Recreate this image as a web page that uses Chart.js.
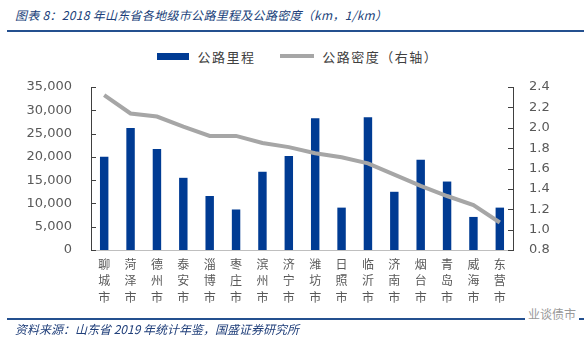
<!DOCTYPE html>
<html>
<head>
<meta charset="utf-8">
<script src="https://cdn.jsdelivr.net/npm/chart.js@4/dist/chart.umd.min.js"></script>
<style>
  body { margin: 0; background: #fff; }
  #wrap { position: relative; width: 584px; height: 341px; overflow: hidden; font-family: "Noto Sans CJK SC", sans-serif; }
  #c { position: absolute; left: 0; top: 0; }
  .title { position: absolute; left: 15px; top: 6px; font-size: 12px; font-style: italic; color: #203f7a; white-space: nowrap; letter-spacing: 0.3px; }
  .rule { position: absolute; left: 7px; right: 0; height: 2px; background: #24508f; }
  .source { position: absolute; left: 15px; top: 320px; font-size: 12px; font-style: italic; color: #203f7a; white-space: nowrap; }
  .legend { position: absolute; top: 45px; left: 157px; font-size: 13px; color: #404040; white-space: nowrap; letter-spacing: 1.5px; }
  .legend span { display: inline-block; vertical-align: middle; }
  .mark { position: absolute; top: 305px; left: 525px; font-size: 12px; color: #999; background: #fff; padding: 0 3px; }
</style>
</head>
<body>
<div id="wrap">
  <div class="title">图表 8：2018 年山东省各地级市公路里程及公路密度（km，1/km）</div>
  <div class="rule" style="top:30px"></div>
  <div class="legend">
    <span style="width:32px;height:7px;background:#003b93"></span>
    <span style="margin-left:4px">公路里程</span>
    <span style="width:34px;height:4px;background:#a6a6a6;margin-left:20px"></span>
    <span style="margin-left:4px">公路密度（右轴）</span>
  </div>
  <canvas id="c" width="584" height="341"></canvas>
  <div class="rule" style="top:318px"></div>
  <div class="mark">业谈债市</div>
  <div class="source">资料来源：山东省 2019 年统计年鉴，国盛证券研究所</div>
</div>
<script>
"use strict";

var cities = ["聊城市", "菏泽市", "德州市", "泰安市", "淄博市", "枣庄市", "滨州市", "济宁市",
              "潍坊市", "日照市", "临沂市", "济南市", "烟台市", "青岛市", "威海市", "东营市"];
var roadLength = [20000, 26200, 21700, 15500, 11600, 8700, 16800, 20200,
                  28300, 9100, 28500, 12500, 19400, 14700, 7100, 9100];
var roadDensity = [2.32, 2.14, 2.11, 2.01, 1.92, 1.92, 1.85, 1.81,
                   1.75, 1.71, 1.65, 1.54, 1.43, 1.33, 1.24, 1.07];

var tickFont = { family: "DejaVu Sans", size: 13 };

/* inward tick marks on both y axes */
var innerTicks = {
    id: "innerTicks",
    afterDraw: function (chart) {
        var ctx = chart.ctx;
        ["y", "y1"].forEach(function (id) {
            var s = chart.scales[id];
            var x = id === "y" ? s.right : s.left;
            var dir = id === "y" ? 1 : -1;
            ctx.save();
            ctx.strokeStyle = "#404040";
            ctx.lineWidth = 1;
            s.ticks.forEach(function (t) {
                var y = Math.round(s.getPixelForValue(t.value)) + 0.5;
                ctx.beginPath();
                ctx.moveTo(x, y);
                ctx.lineTo(x + dir * 5, y);
                ctx.stroke();
            });
            ctx.restore();
        });
    }
};

var myChart = new Chart(document.getElementById("c"), {
    type: "bar",
    data: {
        labels: cities.map(function (c) { return c.split(""); }),
        datasets: [
            {
                type: "line",
                label: "公路密度（右轴）",
                data: roadDensity,
                yAxisID: "y1",
                borderColor: "#a6a6a6",
                borderWidth: 4,
                pointRadius: 0,
                tension: 0,
                order: 0
            },
            {
                type: "bar",
                label: "公路里程",
                data: roadLength,
                yAxisID: "y",
                backgroundColor: "#003b93",
                barPercentage: 0.32,
                categoryPercentage: 1,
                order: 1
            }
        ]
    },
    options: {
        responsive: false,
        animation: false,
        layout: { padding: { top: 87, bottom: 31, left: 0, right: 0 } },
        plugins: { legend: { display: false }, tooltip: { enabled: false } },
        scales: {
            x: {
                grid: { display: false, drawTicks: false },
                border: { color: "#bfbfbf" },
                ticks: {
                    color: "#595959",
                    font: { family: "Noto Sans CJK SC", size: 12, lineHeight: 1.38 },
                    padding: 6,
                    maxRotation: 0,
                    autoSkip: false
                },
                afterFit: function (s) { s.height = 60; }
            },
            y: {
                position: "left",
                min: 0,
                max: 35000,
                grid: { display: false, drawTicks: false },
                border: { color: "#404040" },
                ticks: { stepSize: 5000, color: "#595959", font: tickFont, padding: 19 },
                afterFit: function (s) { s.width = 91; }
            },
            y1: {
                position: "right",
                min: 0.8,
                max: 2.4,
                grid: { display: false, drawTicks: false },
                border: { color: "#404040" },
                ticks: {
                    stepSize: 0.2,
                    color: "#595959",
                    font: tickFont,
                    padding: 16,
                    callback: function (v) { return Number(v).toFixed(1); }
                },
                afterFit: function (s) { s.width = 71; }
            }
        }
    },
    plugins: [innerTicks]
});
</script>
</body>
</html>
